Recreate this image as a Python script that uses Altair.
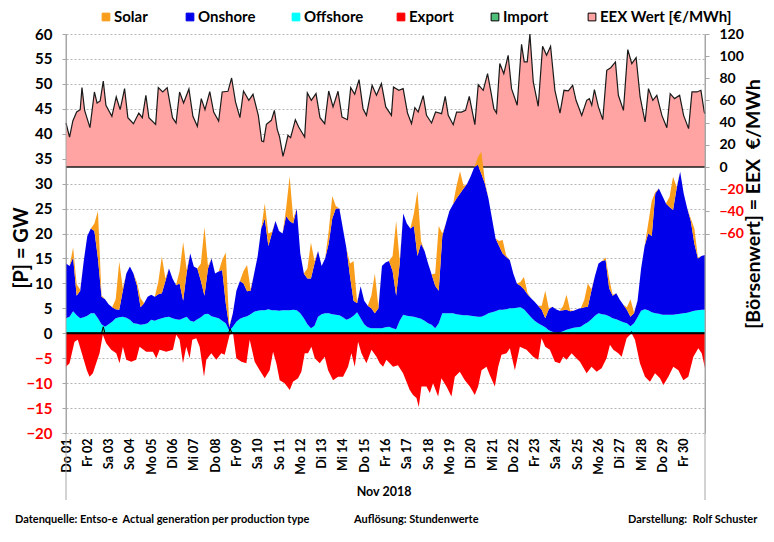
import altair as alt
import pandas as pd

# ---------------- data ----------------
DAY_LABELS = ["Do 01", "Fr 02", "Sa 03", "So 04", "Mo 05", "Di 06", "Mi 07", "Do 08",
              "Fr 09", "Sa 10", "So 11", "Mo 12", "Di 13", "Mi 14", "Do 15", "Fr 16",
              "Sa 17", "So 18", "Mo 19", "Di 20", "Mi 21", "Do 22", "Fr 23", "Sa 24",
              "So 25", "Mo 26", "Di 27", "Mi 28", "Do 29", "Fr 30"]

GRID_HOURS = list(range(0, 721, 4))  # 4-hourly readings, Nov 2018 (hour of month)

OFFSHORE = [
    3.0, 3.3, 4.4, 3.6, 3.0, 3.2,  3.5, 4.0, 4.0, 3.0, 1.8, 1.3,
    1.8, 2.3, 3.0, 3.2, 3.3, 3.1,  2.7, 2.0, 1.9, 1.7, 1.8, 2.0,
    2.7, 2.5, 2.8, 3.0, 3.2, 3.3,  3.0, 2.8, 2.7, 3.0, 3.3, 2.5,
    2.3, 2.8, 3.2, 3.8, 3.9, 3.4,  3.2, 3.0, 2.5, 2.0, 0.5, 1.3,
    2.3, 2.9, 3.2, 3.4, 3.8, 4.3,  4.5, 4.6, 4.6, 4.8, 4.6, 4.6,
    4.5, 4.6, 4.6, 4.6, 4.7, 4.6,  4.0, 3.0, 1.8, 1.0, 1.5, 3.3,
    3.8, 4.0, 4.0, 3.8, 3.7, 3.6,  3.2, 2.7, 3.0, 3.5, 4.2, 3.0,
    1.8, 1.2, 1.0, 1.0, 1.0, 1.0,  1.2, 1.3, 1.0, 0.8, 2.5, 3.7,
    3.5, 3.4, 3.3, 3.1, 2.9, 2.5,  2.0, 1.7, 1.0, 2.0, 4.0, 4.0,
    4.0, 4.0, 3.8, 3.7, 3.6, 3.6,  3.5, 3.4, 3.3, 3.3, 3.6, 4.0,
    4.2, 4.4, 4.7, 4.7, 4.8, 5.0,  5.0, 5.1, 5.2, 4.8, 4.0, 3.2,
    2.5, 2.0, 1.6, 1.2, 0.6, 0.3,  0.1, 0.1, 0.4, 0.7, 0.9, 1.1,
    1.2, 1.3, 1.8, 2.2, 2.8, 3.5,  4.0, 3.8, 3.7, 3.4, 3.0, 2.8,
    2.5, 2.2, 2.0, 1.4, 2.0, 3.2,  4.5, 4.8, 4.6, 4.2, 4.0, 3.9,
    3.7, 3.7, 3.7, 3.7, 3.8, 3.9,  4.0, 4.1, 4.3, 4.5, 4.6, 4.7,
    4.7]

ONSHORE = [
    11.0, 10.2, 10.8, 3.9, 5.5, 11.3,  16.0, 17.0, 16.5, 12.0, 5.5, 5.5,
    4.0, 2.9, 1.8, 1.5, 5.2, 8.9,      10.7, 10.0, 7.6, 3.5, 4.2, 5.3,
    5.0, 4.8, 5.0, 5.0, 7.3, 9.7,      8.0, 6.8, 7.3, 3.5, 8.9, 13.5,
    11.1, 10.2, 7.3, 3.7, 9.1, 11.6,   8.8, 9.4, 10.2, 4.0, 0.7, 2.7,
    6.2, 7.6, 6.8, 5.0, 4.7, 7.7,      11.0, 16.4, 18.4, 12.7, 15.4, 17.9,
    16.0, 15.4, 18.9, 17.9, 17.3, 20.4, 12.0, 9.0, 9.2, 10.0, 12.5, 13.2,
    9.7, 11.0, 14.0, 19.2, 21.3, 21.4, 17.8, 14.3, 8.5, 3.0, 1.8, 6.4,
    4.7, 4.3, 4.0, 3.0, 4.0, 12.5,     13.0, 13.2, 11.5, 6.7, 11.5, 20.3,
    18.5, 17.6, 18.2, 12.4, 15.1, 14.0, 12.0, 10.1, 8.5, 6.5, 15.5, 18.0,
    20.5, 21.8, 23.2, 24.3, 25.4, 26.4, 28.0, 29.9, 30.5, 28.7, 26.4, 23.0,
    18.8, 14.6, 12.8, 11.3, 10.5, 9.7, 7.0, 4.9, 4.3, 4.0, 3.8, 3.8,
    3.8, 3.5, 3.1, 1.8, 4.2, 5.0,      4.7, 4.4, 4.2, 4.0, 3.5, 3.4,
    3.6, 3.7, 3.4, 3.1, 5.7, 8.0,      10.0, 10.7, 11.0, 5.6, 4.5, 5.2,
    4.2, 3.5, 2.7, 1.9, 2.0, 3.3,      8.5, 12.7, 15.4, 15.3, 24.0, 25.1,
    23.8, 22.3, 21.6, 21.0, 25.2, 28.5, 24.0, 20.9, 18.2, 13.5, 10.4, 10.8,
    11.0]

SOLAR = [
    0, 0, 2.0, 2.3, 0.2, 0,   0, 0, 1.5, 9.5, 0.3, 0,
    0, 0, 2.0, 9.7, 0.5, 0,   0, 0, 0.7, 1.8, 0, 0,
    0, 0, 2.5, 7.4, 0.5, 0,   0, 0, 2.5, 11.8, 0.5, 0,
    0, 0, 3.5, 13.8, 0.5, 0,  0, 0, 2.0, 10.2, 0.3, 0,
    0, 0, 2.5, 5.3, 0.3, 0,   0, 0, 3.0, 2.5, 0.3, 0,
    0, 0, 1.5, 9.0, 1.0, 0,   0, 0, 2.0, 7.2, 0.5, 0,
    0, 0, 2.5, 4.5, 0.5, 0,   0, 0, 2.5, 8.0, 0.3, 0,
    0, 0, 2.5, 8.0, 0.3, 0,   0, 0, 3.0, 15.0, 0.5, 0,
    0, 0, 2.5, 13.0, 0.5, 0,  0, 0, 2.5, 13.0, 0.5, 0,
    0, 0, 2.5, 4.5, 0.5, 0,   0, 0, 1.5, 4.4, 0.5, 0,
    0, 0, 1.0, 2.7, 0.3, 0,   0, 0, 0.8, 2.5, 0.3, 0,
    0, 0, 0.8, 5.5, 0.2, 0,   0, 0, 0.8, 3.0, 0.2, 0,
    0, 0, 1.5, 4.7, 0.3, 0,   0, 0, 0.5, 2.0, 0.2, 0,
    0, 0, 0.5, 3.5, 0.2, 0,   0, 0, 2.0, 7.0, 0.3, 0,
    0, 0, 2.0, 6.7, 0.3, 0,   0, 0, 0.5, 3.0, 0.2, 0,
    0]

EXPORT_HOURS = [0, 4, 9.6, 13.3, 19, 23.5, 26.5, 30.3, 34, 37.8, 41.5, 45.3, 50.9, 56.6,
                60.3, 64.1, 67.9, 73.5, 79.1, 82.9, 90.4, 97.9, 101.7, 105.5, 113, 120.5,
                124.2, 128, 131.8, 135.5, 139.3, 142.3, 146.8, 150.6, 155.5, 158.1, 163.7,
                169.4, 175, 178.8, 184.4, 188.2, 191.9, 197.6, 203.2, 207, 212.6, 218.2,
                223.9, 229.5, 233.3, 237, 240.8, 246.4, 252.1, 255.8, 261.5, 265.2, 269,
                272.7, 276.5, 280.3, 285.9, 291.5, 295.3, 300.9, 306.6, 312.2, 317.8, 321.6,
                325.4, 329.1, 332.9, 338.5, 344.2, 349.8, 353.5, 357.3, 361, 368.5, 374,
                379.8, 383.6, 387.3, 391, 394.9, 397.5, 400.5, 406.1, 409.9, 413.6, 419.3,
                423, 428.7, 434.3, 438.1, 443.7, 449.4, 455, 460.6, 464.4, 468.2, 473.8,
                477.6, 483.2, 487, 490.7, 496.4, 500.1, 505.8, 511.4, 518.9, 526.4, 532.1,
                535.8, 540, 545.2, 550.9, 556.5, 560.3, 564, 569.7, 575, 579.1, 586.6,
                592.2, 597.9, 603.5, 609.1, 612.9, 616.7, 622.3, 626.1, 631.7, 637.3,
                641.1, 646.7, 652.4, 658, 663.7, 669.3, 673.1, 678.7, 684.3, 690, 695.6,
                701.2, 706.9, 712.5, 716.3, 720]
EXPORT = [-6.7, -6, -1.7, -1.3, -4.7, -7.4, -8.7, -8, -6, -4, -0.3, -2, -3.3, -4,
          -6, -2.7, -5.3, -5.7, -5.3, -2.7, -3.7, -3.7, -5, -3.3, -3.7, -3.3,
          -0.3, -1.3, -6, -2.7, -5, -1.3, -1, -2.7, -8.7, -5.3, -4,
          -5.3, -4, -4.3, -0.3, 0, -5, -5.7, -6, -1.3, -5.7, -7.4,
          -9, -7.4, -3.7, -6, -9.4, -10, -11.4, -9.7, -9, -7.7, -4,
          -4, -2.7, -5, -6, -4.7, -7.4, -9.4, -8.7, -8.7, -6.7, -4,
          -6.7, -1.7, -4, -6, -3.3, -4.7, -6, -6.7, -5.3, -6.7, -6.4,
          -8, -9.7, -11.4, -12.4, -13, -14.8, -10.7, -10.7, -12, -10, -12.7,
          -9, -10.7, -12.7, -8.7, -7.7, -9.4, -10.7, -12.4, -10.7, -7.4, -6.7,
          -8.4, -10.7, -6.7, -4.3, -4, -3, -7.4, -2.7, -3.3, -4.7, -5.3,
          -1, -2.7, -3.3, -5.7, -6, -4.7, -5.3, -4, -5, -5.7, -8,
          -6.7, -7.7, -7, -5, -2.3, -3.3, -4, -4.7, -1, 0,
          -1.3, -6, -8.7, -9.7, -8, -9, -10.4, -8.7, -6.7, -7.4, -9.4,
          -8.7, -4.7, -3, -4, -7]

IMPORT_HOURS = [0, 40, 42, 44, 183, 185, 187, 635, 637, 639, 720]
IMPORT = [0, 0, 1.3, 0, 0, 0.9, 0, 0, 0.3, 0, 0]

PRICE_HOURS = [0, 4, 7.7, 12, 16, 18, 21, 27, 32, 35, 38.5, 42, 45, 51.7, 56.6, 61, 66,
               69.7, 76, 82, 86, 90, 93.4, 101, 104, 109, 114, 120, 124, 128, 132.5,
               138.5, 143, 148, 152.4, 156.6, 162, 166.4, 172, 176, 182.5, 186.6, 191,
               196, 200, 206, 210.7, 216.7, 220.5, 222.7, 225.8, 231.4, 234.8, 238,
               240.7, 244.5, 247.1, 250.1, 253.1, 258.4, 262.2, 268.9, 271.9, 276.4,
               281.7, 286.2, 291.5, 296, 300.9, 306.5, 311, 317.1, 320.8, 325.3, 330.2,
               334.7, 338.5, 344.9, 349.8, 355.4, 360.3, 366.7, 369, 375, 379.9, 384.8,
               389.3, 393.1, 396.8, 402.5, 406.2, 411.9, 416.4, 423.2, 427.3, 430.7,
               436.3, 440.1, 445.7, 450.2, 454.4, 460.7, 464.5, 470.1, 475, 479.5,
               482.1, 485.1, 488.8, 493.3, 498.2, 502, 508.4, 513.3, 516.3, 519.7,
               522.7, 526.5, 532.1, 537, 541.5, 546, 550.9, 556.6, 561.1, 566, 570.9,
               574.7, 581.1, 586.7, 589.7, 592.4, 595.4, 599.9, 604.8, 609.3, 613.8,
               619.1, 622.4, 628.1, 633, 637.5, 642.4, 646.9, 652.5, 656.3, 661.2,
               665.7, 671.4, 677, 680.8, 685.7, 691.4, 695.9, 701.5, 705.3, 710.9,
               715.4, 719.2, 720]
PRICE = [39.7, 27, 41.5, 49.6, 51.7, 71.6, 51, 35.5, 67.7, 57.8, 59.6, 77.6, 55.7, 45.7,
         63.2, 51.7, 70.7, 44.5, 39.1, 48.7, 44.5, 64.7, 44.5, 38.5, 71.6, 67.7, 71.6,
         44.5, 39.7, 67.7, 57.8, 70.4, 45.7, 36.7, 61.7, 51.7, 68, 49.6, 41.5, 67.7,
         68.3, 80.3, 58.7, 44.5, 68.6, 60.2, 65.6, 46.6, 23.5, 22.9, 38.5, 42.1, 51.1,
         34, 27, 9.6, 18, 28.6, 26.5, 42.7, 36.1, 27, 66.8, 60.2, 66.2, 44.5, 39.1,
         68.6, 54.2, 68.3, 45.1, 42.7, 71.6, 65.6, 78.8, 52.6, 46.6, 73.7, 64.7, 75.2,
         54.2, 46.6, 72.2, 69.2, 70.7, 48.7, 39.1, 53.5, 49.6, 64.4, 46.6, 39.7, 49.6,
         48.1, 63.8, 46.6, 38.2, 49.6, 49.6, 51.1, 63.8, 38.2, 74.3, 69.2, 84.2, 64.7,
         52.6, 48.7, 93.3, 84.2, 100.8, 70.7, 55.7, 110.7, 94.8, 94.8, 120, 76.7,
         54.8, 108.9, 100.8, 108.9, 69.2, 48.7, 69.2, 68.6, 73.7, 60.2, 46.6, 60.2,
         61.7, 55.7, 69.8, 54.2, 42.7, 87.2, 89.6, 94.8, 64.7, 51.1, 105.9, 93.3,
         98.7, 63.2, 40.6, 70.7, 60.2, 64.7, 46.6, 35.5, 66.2, 61.7, 64.7, 46.6, 34.6,
         67.7, 67.7, 69.2, 49.6, 48]

SERIES = ["Solar", "Onshore", "Offshore", "Export", "Import", "EEX Wert [€/MWh]"]
GW_TICKS = list(range(-20, 61, 5))
PRICE_TICKS = [-60, -40, -20, 0, 20, 40, 60, 80, 100, 120]

# ---------------- style ----------------
FONT = "Lato"
COL = {"Solar": "#f99d1c", "Onshore": "#0000ea", "Offshore": "#00ffff",
       "Export": "#ff0000", "Import": "#4fc07a", "EEX Wert [€/MWh]": "#ffa3a3"}
GRAY = "#a6a6a6"
W, H = 639, 399
NB = "\u00a0"

gen_rows = []
for i, h in enumerate(GRID_HOURS):
    gen_rows.append({"h": h, "comp": "Offshore", "ord": 0, "v": OFFSHORE[i]})
    gen_rows.append({"h": h, "comp": "Onshore", "ord": 1, "v": ONSHORE[i]})
    gen_rows.append({"h": h, "comp": "Solar", "ord": 2, "v": SOLAR[i]})
gen_df = pd.DataFrame(gen_rows)
exp_df = pd.DataFrame({"h": EXPORT_HOURS, "v": EXPORT})
imp_df = pd.DataFrame({"h": IMPORT_HOURS, "v": IMPORT})
price_df = pd.DataFrame({"h": PRICE_HOURS, "p": PRICE})

label_js = "[" + ",".join("'%s'" % s for s in DAY_LABELS) + "]"
xscale = alt.Scale(domain=[0, 720], nice=False, zero=False)
xaxis = alt.Axis(values=[24 * i for i in range(len(DAY_LABELS))],
                 labelExpr=label_js + "[round(datum.value/24)]",
                 labelAngle=270, labelFont=FONT, labelFontWeight="bold",
                 labelFontSize=12.5, labelColor="black", labelPadding=5,
                 labelOverlap=False, labelBound=False,
                 domain=False, ticks=False, grid=False, title=None)
X = alt.X("h:Q", scale=xscale, axis=xaxis)

lbl_color = alt.condition("datum.value < 0", alt.value("#ff0000"), alt.value("black"))
yscale = alt.Scale(domain=[-20, 60], nice=False, zero=False)
yaxis = alt.Axis(values=GW_TICKS, orient="left", title=None, grid=True,
                 gridDash=[2, 2], gridColor="#b4b4b4", gridWidth=1,
                 domainColor=GRAY, tickColor=GRAY, tickSize=4,
                 labelFont=FONT, labelFontWeight="bold", labelFontSize=15,
                 labelPadding=10, labelOverlap=False, labelColor=lbl_color)
pscale = alt.Scale(domain=[-240, 120], nice=False, zero=False)
paxis = alt.Axis(values=PRICE_TICKS, orient="right", title=None, grid=False,
                 domainColor=GRAY, tickColor=GRAY, tickSize=4,
                 labelFont=FONT, labelFontWeight="bold", labelFontSize=14,
                 labelPadding=10, labelOverlap=False, labelColor=lbl_color)
YG = lambda f: alt.Y(f, stack=None, scale=yscale, axis=yaxis)
YP = lambda f: alt.Y(f, scale=pscale, axis=paxis)

# price layer (right axis)
price_area = alt.Chart(price_df).mark_area(color=COL["EEX Wert [€/MWh]"], opacity=1).encode(
    x=X, y=YP("p:Q"), y2=alt.datum(0))
price_line = alt.Chart(price_df).mark_line(color="#1a1a1a", strokeWidth=1.2).encode(
    x=X, y=YP("p:Q"))
price_base = alt.Chart(pd.DataFrame({"z": [0]})).mark_rule(color="#1a1a1a", strokeWidth=1.6).encode(
    y=YP("z:Q"))
right = alt.layer(price_area, price_line, price_base)

# generation layer (left axis)
gen = alt.Chart(gen_df).mark_area(interpolate="linear").encode(
    x=X,
    y=alt.Y("v:Q", stack="zero", scale=yscale, axis=yaxis),
    color=alt.Color("comp:N", scale=alt.Scale(domain=["Solar", "Onshore", "Offshore"],
                                              range=[COL["Solar"], COL["Onshore"], COL["Offshore"]]),
                    legend=None),
    order=alt.Order("ord:Q", sort="ascending"))
exp = alt.Chart(exp_df).mark_area(color=COL["Export"]).encode(
    x=X, y=YG("v:Q"), y2=alt.datum(0))
imp = alt.Chart(imp_df).mark_area(color=COL["Import"], stroke="black", strokeWidth=1).encode(
    x=X, y=YG("v:Q"), y2=alt.datum(0))
zero = alt.Chart(pd.DataFrame({"z": [0]})).mark_rule(color="black", strokeWidth=2).encode(
    y=YG("z:Q"))

# decorations: extended axis lines, titles, legend, footers
deco = []
for xv in [0, W]:
    deco.append(alt.Chart(pd.DataFrame({"a": [0]})).mark_rule(color=GRAY, strokeWidth=1).encode(
        x=alt.value(xv), y=alt.value(0), y2=alt.value(466)))

def txt(text, x, y, size, align="left", angle=0, color="black"):
    return alt.Chart(pd.DataFrame({"t": [text]})).mark_text(
        font=FONT, fontWeight="bold", fontSize=size, align=align, baseline="middle",
        angle=angle, color=color).encode(text="t:N", x=alt.value(x), y=alt.value(y))

deco.append(txt("[P] = GW", -44, 214, 20, align="center", angle=270))
deco.append(txt("[Börsenwert] = EEX" + NB + NB + "€/MWh", 688, 170, 19.5, align="center", angle=270))
deco.append(txt("Nov 2018", 318, 458, 12.5, align="center"))
deco.append(txt("Datenquelle: Entso-e" + NB + NB + "Actual generation per production type", -51, 486, 11))
deco.append(txt("Auflösung: Stundenwerte", 288, 486, 11))
deco.append(txt("Darstellung:" + NB + NB + "Rolf Schuster", 562, 486, 11))

LEG_SQ = [40, 124, 230, 335, 429, 526]
for name, sx in zip(SERIES, LEG_SQ):
    stroke = "black" if name in ("Import", "EEX Wert [€/MWh]") else COL[name]
    deco.append(alt.Chart(pd.DataFrame({"a": [0]})).mark_square(
        size=60, fill=COL[name], stroke=stroke, strokeWidth=1, opacity=1).encode(
        x=alt.value(sx), y=alt.value(-17)))
    deco.append(txt(name, sx + 8, -17, 15))

left = alt.layer(gen, exp, imp, zero, *deco)

chart = alt.layer(right, left).resolve_scale(y="independent").properties(
    width=W, height=H, autosize=alt.AutoSizeParams(type="none"),
    padding={"left": 58, "top": 26, "right": 60, "bottom": 96},
    background="white"
).configure_view(stroke=None)

chart.save("out.html", embed_options={"renderer": "svg", "actions": False})
